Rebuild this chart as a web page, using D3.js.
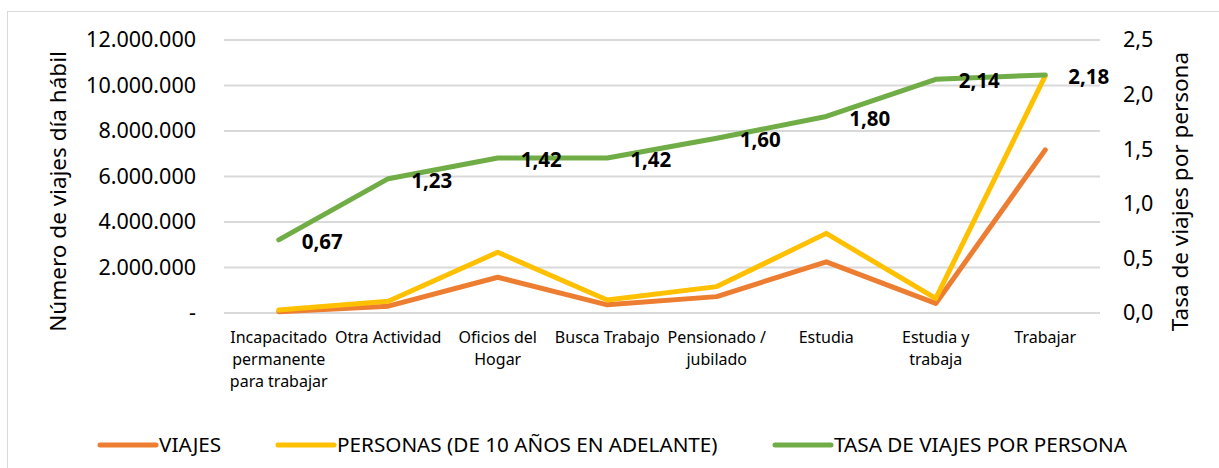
<!DOCTYPE html>
<html>
<head>
<meta charset="utf-8">
<script src="https://cdn.jsdelivr.net/npm/d3@7"></script>
<style>
  body { margin: 0; background: #fff; }
  svg { display: block; }
</style>
</head>
<body>
<svg id="chart"></svg>
<script>
// data
const categories = [
  "Incapacitado\npermanente\npara trabajar",
  "Otra Actividad",
  "Oficios del\nHogar",
  "Busca Trabajo",
  "Pensionado /\njubilado",
  "Estudia",
  "Estudia y\ntrabaja",
  "Trabajar"
];
const viajes = [60000, 300000, 1570000, 360000, 720000, 2250000, 420000, 7170000];
const personas = [130000, 520000, 2670000, 570000, 1160000, 3500000, 640000, 10420000];
const tasa = [0.67, 1.23, 1.42, 1.42, 1.60, 1.80, 2.14, 2.18];
const leftTicks = [0, 2000000, 4000000, 6000000, 8000000, 10000000, 12000000];
const rightTicks = [0, 0.5, 1.0, 1.5, 2.0, 2.5];
const legendNames = ["VIAJES", "PERSONAS (DE 10 AÑOS EN ADELANTE)", "TASA DE VIAJES POR PERSONA"];

const width = 1219, height = 468;
const plot = {left: 224, right: 1100, top: 40, bottom: 313};
const colors = ["#ED7D31", "#FFC000", "#70AD47"];
const font = "'Noto Sans', sans-serif";

const svg = d3.select("#chart")
  .attr("width", width)
  .attr("height", height)
  .style("font-family", font);

// outer chart border
svg.append("rect")
  .attr("x", 7.5).attr("y", 11.5)
  .attr("width", 1300).attr("height", 600)
  .attr("fill", "none")
  .attr("stroke", "#D9D9D9")
  .attr("stroke-width", 1);

const x = d3.scaleBand()
  .domain(categories)
  .range([plot.left, plot.right]);
const yLeft = d3.scaleLinear()
  .domain([0, 12000000])
  .range([plot.bottom, plot.top]);
const yRight = d3.scaleLinear()
  .domain([0, 2.5])
  .range([plot.bottom, plot.top]);

const cx = (d) => x(d) + x.bandwidth() / 2;

// gridlines
svg.selectAll("line.grid")
  .data(leftTicks)
  .enter().append("line")
  .attr("class", "grid")
  .attr("x1", plot.left).attr("x2", plot.right)
  .attr("y1", (d) => yLeft(d)).attr("y2", (d) => yLeft(d))
  .style("stroke", "#D9D9D9")
  .style("stroke-width", 2);

// left axis
const fmtLeft = (d) => d === 0 ? "-" : d3.format(",")(d).replace(/,/g, ".");
const leftAxis = svg.append("g")
  .attr("transform", `translate(${plot.left - 28},0)`)
  .call(d3.axisLeft(yLeft).tickValues(leftTicks).tickFormat(fmtLeft).tickSize(0).tickPadding(0));
leftAxis.select(".domain").remove();
leftAxis.selectAll("text")
  .style("font-family", font)
  .style("font-size", "21.5px")
  .style("fill", "#000");

// right axis
const rightAxis = svg.append("g")
  .attr("transform", `translate(${plot.right + 23},0)`)
  .call(d3.axisRight(yRight).tickValues(rightTicks).tickFormat((d) => d3.format(".1f")(d).replace(".", ",")).tickSize(0).tickPadding(0));
rightAxis.select(".domain").remove();
rightAxis.selectAll("text")
  .style("font-family", font)
  .style("font-size", "21.5px")
  .style("fill", "#000");

// category labels
const catLabels = svg.selectAll("text.cat")
  .data(categories)
  .enter().append("text")
  .attr("class", "cat")
  .attr("text-anchor", "middle")
  .attr("x", (d) => cx(d))
  .attr("y", 343)
  .style("font-size", "16px")
  .style("fill", "#000");
catLabels.selectAll("tspan")
  .data((d) => d.split("\n").map((t) => ({t: t, c: d})))
  .enter().append("tspan")
  .attr("x", (d) => cx(d.c))
  .attr("dy", (d, i) => i === 0 ? 0 : 22)
  .text((d) => d.t);

// axis titles
svg.append("text")
  .attr("transform", `translate(66,${(plot.top + plot.bottom) / 2 + 15}) rotate(-90)`)
  .attr("text-anchor", "middle")
  .style("font-size", "22.5px")
  .text("Número de viajes día hábil");
svg.append("text")
  .attr("transform", `translate(1188,${(plot.top + plot.bottom) / 2 + 15}) rotate(-90)`)
  .attr("text-anchor", "middle")
  .style("font-size", "22.5px")
  .text("Tasa de viajes por persona");

// lines
const lineLeft = (vals) => d3.line()
  .x((d, i) => cx(categories[i]))
  .y((d) => yLeft(d))(vals);
const lineRight = d3.line()
  .x((d, i) => cx(categories[i]))
  .y((d) => yRight(d));

svg.append("path")
  .attr("d", lineLeft(viajes))
  .attr("fill", "none")
  .attr("stroke", colors[0])
  .attr("stroke-width", 5)
  .attr("stroke-linejoin", "round")
  .attr("stroke-linecap", "round");
svg.append("path")
  .attr("d", lineLeft(personas))
  .attr("fill", "none")
  .attr("stroke", colors[1])
  .attr("stroke-width", 5)
  .attr("stroke-linejoin", "round")
  .attr("stroke-linecap", "round");
svg.append("path")
  .attr("d", lineRight(tasa))
  .attr("fill", "none")
  .attr("stroke", colors[2])
  .attr("stroke-width", 5)
  .attr("stroke-linejoin", "round")
  .attr("stroke-linecap", "round");

// data labels for tasa
svg.selectAll("text.val")
  .data(tasa)
  .enter().append("text")
  .attr("class", "val")
  .attr("x", (d, i) => cx(categories[i]) + 23)
  .attr("y", (d) => yRight(d) + 2)
  .attr("dy", "0.35em")
  .style("font-size", "20.5px")
  .style("font-weight", "bold")
  .style("fill", "#000")
  .text((d) => d3.format(".2f")(d).replace(".", ","));

// legend
const legendX = [100, 278, 775];
const legend = svg.selectAll("g.legend")
  .data(legendNames)
  .enter().append("g")
  .attr("class", "legend")
  .attr("transform", (d, i) => `translate(${legendX[i]},445)`);
legend.append("line")
  .attr("x1", 0).attr("x2", 56)
  .attr("y1", 0).attr("y2", 0)
  .attr("stroke", (d, i) => colors[i])
  .attr("stroke-width", 5)
  .attr("stroke-linecap", "round");
legend.append("text")
  .attr("x", 59)
  .attr("y", 0)
  .attr("dy", "0.36em")
  .style("font-size", "20.7px")
  .style("fill", "#000")
  .text((d) => d);
</script>
</body>
</html>
